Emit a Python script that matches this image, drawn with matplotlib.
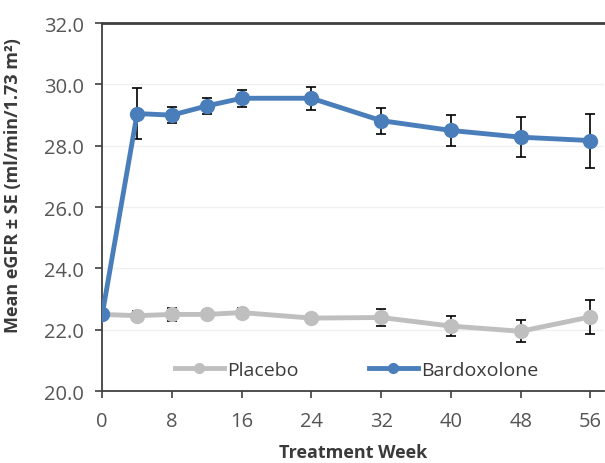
import numpy as np
import matplotlib.pyplot as plt
from matplotlib.lines import Line2D

# Data
weeks = [0, 4, 8, 12, 16, 24, 32, 40, 48, 56]
bardox_mean = [22.5, 29.05, 29.0, 29.3, 29.55, 29.55, 28.82, 28.5, 28.28, 28.17]
bardox_se = [0.0, 0.82, 0.25, 0.25, 0.27, 0.38, 0.42, 0.5, 0.65, 0.88]
placebo_mean = [22.5, 22.46, 22.5, 22.5, 22.56, 22.38, 22.4, 22.12, 21.95, 22.42]
placebo_se = [0.0, 0.14, 0.2, 0.14, 0.14, 0.14, 0.27, 0.32, 0.36, 0.55]
x_ticks = [0, 8, 16, 24, 32, 40, 48, 56]
y_ticks = [20, 22, 24, 26, 28, 30, 32]

blue = "#4a7ebb"
grey = "#bfbfbf"

plt.rcParams['font.family'] = ['Open Sans', 'DejaVu Sans']

fig = plt.figure(figsize=(6.05, 4.64), dpi=100)
ax = fig.add_axes([0.169, 0.155, 0.83, 0.793])

ax.errorbar(weeks, placebo_mean, yerr=placebo_se, color=grey, lw=3.5,
            marker="o", ms=10, ecolor="black", elinewidth=1.2, capsize=3.5,
            capthick=1.2, zorder=3)
ax.errorbar(weeks, bardox_mean, yerr=bardox_se, color=blue, lw=3.5,
            marker="o", ms=10, ecolor="black", elinewidth=1.2, capsize=3.5,
            capthick=1.2, zorder=4)

ax.set_xlim(0, 57.6)
ax.set_ylim(20, 32)
ax.set_xticks(x_ticks)
ax.set_yticks(y_ticks)
ax.set_yticklabels([f"{v:.1f}" for v in y_ticks])
ax.grid(axis="y", color="#f0f0f0", lw=1)
ax.set_axisbelow(True)

for side in ["left", "bottom", "top"]:
    ax.spines[side].set_color("#404040")
    ax.spines[side].set_linewidth(1.3)
ax.spines["top"].set_linewidth(2)
ax.spines["right"].set_visible(False)
ax.tick_params(axis="both", colors="#404040", labelcolor="#555555",
               labelsize=14.5, length=5, width=1.2)
ax.tick_params(axis="y", pad=8)
ax.tick_params(axis="x", pad=9)

ax.set_xlabel("Treatment Week", fontsize=13, fontweight="bold",
              color="#3a3a3a", labelpad=9)
ax.set_ylabel("Mean eGFR ± SE (ml/min/1.73 m²)", fontsize=13,
              fontweight="bold", color="#3a3a3a")
ax.yaxis.set_label_coords(-0.16, 0.56)

handles = [Line2D([], [], color=grey, lw=3.5, marker="o", ms=7),
           Line2D([], [], color=blue, lw=3.5, marker="o", ms=7)]
ax.legend(handles, ["Placebo", "Bardoxolone"], loc="center",
          bbox_to_anchor=(0.507, 0.058), ncol=2, frameon=False,
          fontsize=14, handlelength=2.5, columnspacing=3.6, handletextpad=0.2,
          labelcolor="#3a3a3a")

fig.savefig("out.png", dpi=100)
